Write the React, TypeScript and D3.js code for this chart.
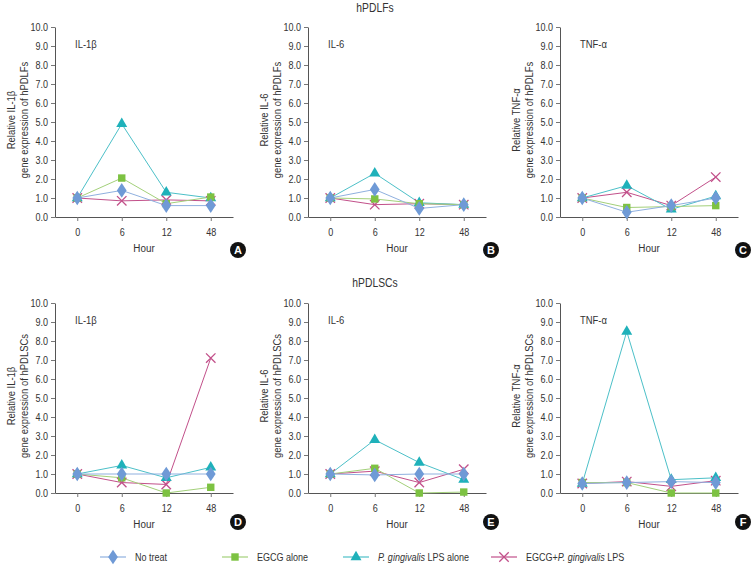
import * as React from 'react';
import * as d3 from 'd3';

const hours = ['0', '6', '12', '48'];
const yTicks = [0, 1, 2, 3, 4, 5, 6, 7, 8, 9, 10];
const seriesNames = ['No treat', 'EGCG alone', 'P. gingivalis LPS alone', 'EGCG+P. gingivalis LPS'];
const seriesColors = ['#6f9ad6', '#7dc242', '#1fb1ba', '#c2508a'];
const seriesLines = ['#8fb0df', '#a3d07a', '#4cc0c8', '#c2508a'];

// panel A: IL-1b hPDLFs
const aNoTreat = [1.0, 1.4, 0.6, 0.6];
const aEgcg = [1.0, 2.05, 0.7, 1.05];
const aLps = [1.0, 4.9, 1.3, 1.0];
const aBoth = [1.0, 0.85, 0.9, 0.85];
// panel B: IL-6 hPDLFs
const bNoTreat = [1.0, 1.45, 0.45, 0.65];
const bEgcg = [1.0, 0.95, 0.7, 0.65];
const bLps = [1.0, 2.3, 0.75, 0.65];
const bBoth = [1.0, 0.65, 0.7, 0.65];
// panel C: TNF-a hPDLFs
const cNoTreat = [1.0, 0.25, 0.6, 1.0];
const cEgcg = [1.0, 0.5, 0.55, 0.6];
const cLps = [1.0, 1.65, 0.4, 1.1];
const cBoth = [1.0, 1.3, 0.6, 2.1];
// panel D: IL-1b hPDLSCs
const dNoTreat = [1.0, 1.0, 1.0, 1.0];
const dEgcg = [1.0, 0.8, 0.0, 0.3];
const dLps = [1.0, 1.45, 0.8, 1.35];
const dBoth = [1.0, 0.55, 0.45, 7.1];
// panel E: IL-6 hPDLSCs
const eNoTreat = [1.0, 0.95, 1.0, 1.0];
const eEgcg = [1.0, 1.3, 0.0, 0.05];
const eLps = [1.0, 2.8, 1.6, 0.7];
const eBoth = [1.0, 1.15, 0.55, 1.25];
// panel F: TNF-a hPDLSCs
const fNoTreat = [0.5, 0.55, 0.6, 0.55];
const fEgcg = [0.55, 0.55, 0.0, 0.0];
const fLps = [0.5, 8.5, 0.7, 0.8];
const fBoth = [0.5, 0.6, 0.35, 0.65];

const panels = [
  { id: 'A', gene: 'IL-1β', cell: 'hPDLFs', x: 55, y: 27, data: [aNoTreat, aEgcg, aLps, aBoth] },
  { id: 'B', gene: 'IL-6', cell: 'hPDLFs', x: 308, y: 27, data: [bNoTreat, bEgcg, bLps, bBoth] },
  { id: 'C', gene: 'TNF-α', cell: 'hPDLFs', x: 560, y: 27, data: [cNoTreat, cEgcg, cLps, cBoth] },
  { id: 'D', gene: 'IL-1β', cell: 'hPDLSCs', x: 55, y: 303, data: [dNoTreat, dEgcg, dLps, dBoth] },
  { id: 'E', gene: 'IL-6', cell: 'hPDLSCs', x: 308, y: 303, data: [eNoTreat, eEgcg, eLps, eBoth] },
  { id: 'F', gene: 'TNF-α', cell: 'hPDLSCs', x: 560, y: 303, data: [fNoTreat, fEgcg, fLps, fBoth] },
];

const W = 751;
const H = 565;
const PW = 178;
const PH = 190;
const FONT = '"Liberation Sans", Arial, sans-serif';
const SQ = 0.86; // horizontal squeeze, the original uses a condensed face

const symbols = [d3.symbolDiamond, d3.symbolSquare, d3.symbolTriangle, d3.symbolX];
const symbolSizes = [62, 55, 52, 60];

function styleText(t: any, size: number) {
  return t.attr('font-family', FONT).attr('font-size', size).attr('fill', '#333');
}

// place a condensed text at (x, y)
function condText(g: any, x: number, y: number, size: number, anchor = 'start') {
  return styleText(g.append('text'), size)
    .attr('transform', `translate(${x},${y}) scale(${SQ},1)`)
    .attr('text-anchor', anchor);
}

function drawMarker(g: any, i: number, cx: number, cy: number) {
  const path = d3.symbol().type(symbols[i]).size(symbolSizes[i])();
  const m = g.append('path')
    .attr('d', path)
    .attr('transform', i === 0 ? `translate(${cx},${cy}) scale(1.15,1)` : `translate(${cx},${cy})`);
  if (i === 3) {
    m.attr('fill', 'none').attr('stroke', seriesColors[i]).attr('stroke-width', 1.3);
  } else {
    m.attr('fill', seriesColors[i]);
  }
}

const App: React.FC = () => {
  const svgRef = React.useRef(null);

  React.useEffect(() => {
    const svg = d3.select(svgRef.current);
    svg.selectAll('*').remove();
    svg.append('rect').attr('width', W).attr('height', H).attr('fill', '#fff');

    condText(svg, 375, 12, 12, 'middle').text('hPDLFs');
    condText(svg, 375, 287, 12, 'middle').text('hPDLSCs');

    panels.forEach((p) => {
      const g = svg.append('g').attr('transform', `translate(${p.x},${p.y})`);
      const x = d3.scalePoint().domain(hours).range([0, PW]).padding(0.5);
      const y = d3.scaleLinear().domain([0, 10]).range([PH, 0]);

      const yAxis = g.append('g')
        .call(d3.axisLeft(y).tickValues(yTicks).tickFormat(d3.format('.1f')).tickSize(4).tickSizeOuter(0));
      const xAxis = g.append('g').attr('transform', `translate(0,${PH})`)
        .call(d3.axisBottom(x).tickSize(4).tickSizeOuter(0));
      [yAxis, xAxis].forEach((a) => {
        a.select('.domain').attr('stroke', '#555');
        a.selectAll('.tick line').attr('stroke', '#777');
        styleText(a.selectAll('text'), 10.5).attr('transform', `scale(${SQ},1)`);
      });
      yAxis.selectAll('text').attr('x', -7 / SQ);
      xAxis.selectAll('text').attr('dy', '1.1em');

      condText(g, PW / 2, PH + 35, 11.5, 'middle').text('Hour');
      condText(g, 20, 21, 11).text(p.gene);

      const lab = styleText(g.append('text')
        .attr('transform', `translate(-40,${PH / 2 - 2}) rotate(-90) scale(${SQ},1)`)
        .attr('text-anchor', 'middle'), 11);
      lab.append('tspan').attr('x', 0).attr('dy', 0).text(`Relative ${p.gene}`);
      lab.append('tspan').attr('x', 0).attr('dy', 13).text(`gene expression of ${p.cell}`);

      const line = d3.line<number>().x((_, i) => x(hours[i]) as number).y((d) => y(d));
      for (let s = 3; s >= 0; s--) {
        g.append('path').datum(p.data[s]).attr('d', line)
          .attr('fill', 'none').attr('stroke', seriesLines[s]).attr('stroke-width', 1);
      }
      for (let s = 3; s >= 0; s--) {
        p.data[s].forEach((v, i) => drawMarker(g, s, x(hours[i]) as number, y(v)));
      }

      const badge = g.append('g').attr('transform', `translate(${PW + 5},${PH + (p.y > 100 ? 29 : 33)})`);
      badge.append('circle').attr('r', 8).attr('fill', '#111');
      badge.append('text').attr('text-anchor', 'middle').attr('dy', '0.36em')
        .attr('font-family', FONT).attr('font-weight', 'bold').attr('font-size', 11)
        .attr('fill', '#fff').text(p.id);
    });

    // legend
    const legendX = [100, 222, 343, 491];
    const lg = svg.append('g').attr('transform', 'translate(0,557)');
    seriesNames.forEach((name, i) => {
      const item = lg.append('g').attr('transform', `translate(${legendX[i]},0)`);
      item.append('line').attr('x1', 0).attr('x2', 26).attr('stroke', seriesLines[i]).attr('stroke-width', 1.2);
      drawMarker(item, i, 13, 0);
      const t = condText(item, 35, 0, 10.5).attr('dy', '0.35em');
      if (i === 2) {
        t.append('tspan').attr('font-style', 'italic').text('P. gingivalis');
        t.append('tspan').text(' LPS alone');
      } else if (i === 3) {
        t.append('tspan').text('EGCG+');
        t.append('tspan').attr('font-style', 'italic').text('P. gingivalis');
        t.append('tspan').text(' LPS');
      } else {
        t.text(name);
      }
    });
  }, []);

  return (
    <svg ref={svgRef} width={W} height={H} style={{ position: 'absolute', left: 0, top: 0 }}></svg>
  );
};

export default App;
